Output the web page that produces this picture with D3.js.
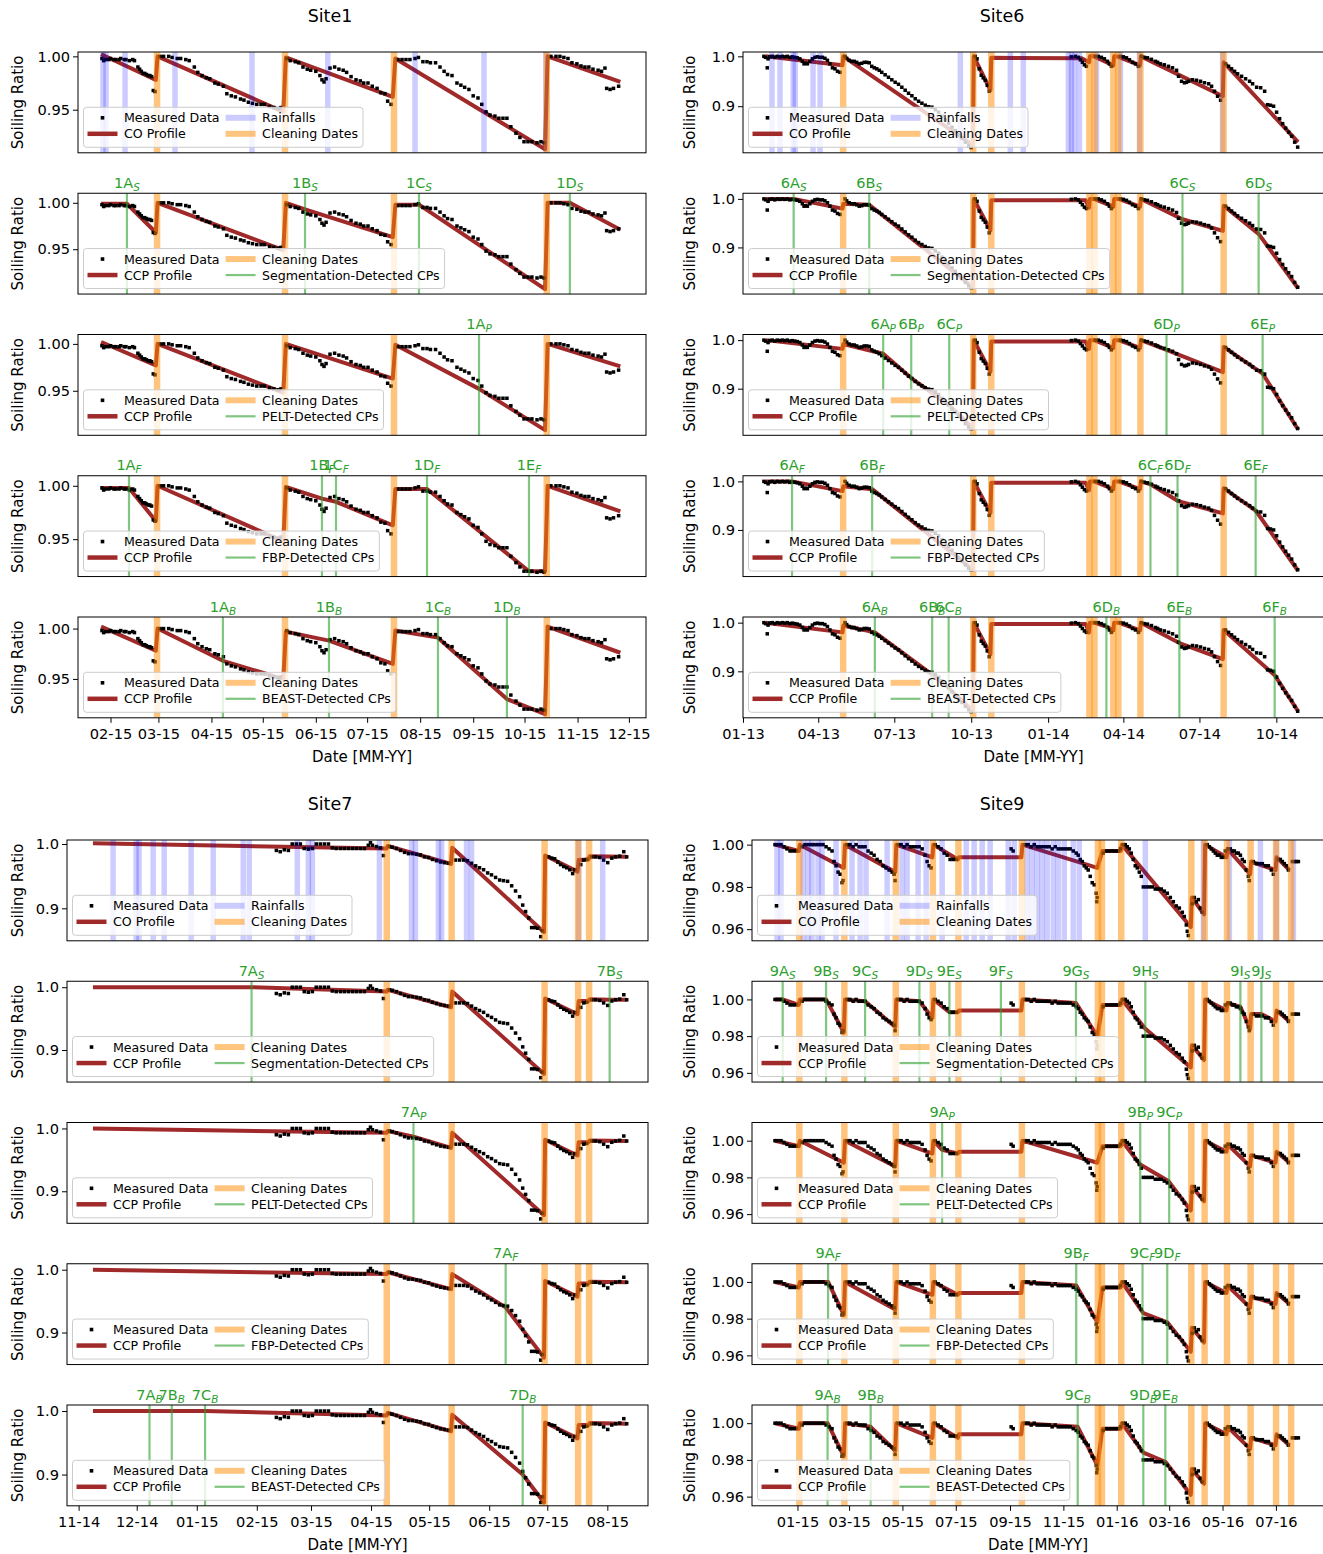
<!DOCTYPE html>
<html><head><meta charset="utf-8">
<script src="https://cdn.jsdelivr.net/npm/d3@7"></script>
<style>
body{margin:0;background:#fff;}
svg{display:block;font-family:"DejaVu Sans",sans-serif;}
</style>
</head><body>
<svg id="chart" width="1323" height="1554"></svg>
<script>
// ===================== DATA (days counted from each site's origin date) =====================
const methodNames = ["Segmentation", "PELT", "FBP", "BEAST"];
const methodSubs = ["S", "P", "F", "B"];

// ---------- Site1 ----------
const site1Origin = "2015-01-13";
const site1End = "2015-12-11";
const site1Ticks = ["2015-02-01","2015-03-01","2015-04-01","2015-05-01","2015-06-01","2015-07-01","2015-08-01","2015-09-01","2015-10-01","2015-11-01","2015-12-01"];
const site1YTicks = [0.95, 1.00];
const site1YDomains = [[0.9096,1.0041],[0.9017,1.0103],[0.9025,1.0100],[0.915,1.0094],[0.9114,1.0115]];
const site1Measured = [
[14,0.998],[15,0.996],[16,0.997],[18,0.997],[19,0.998],[21,0.997],[22,0.997],[24,0.997],[25,0.998],[27,0.997],[28,0.997],[30,0.996],[32,0.997],[33,0.996],[35,0.990],[36,0.988],[37,0.986],[38,0.984],[39,0.984],[40,0.983],[41,0.982],[42,0.982],[43,0.981],[44,0.968],[45,0.967],
[48,1.000],[50,1.000],[53,1.000],[55,0.999],[58,0.998],[60,0.998],[63,0.997],[65,0.996],[68,0.990],[70,0.985],[72.5,0.982],[75,0.980],[77,0.979],[80,0.975],[82,0.974],[85,0.972],[87,0.965],[89.6,0.963],[92,0.962],[95,0.960],[97,0.959],[99.6,0.957],[102,0.956],[104.5,0.955],[107,0.955],[109,0.955],[112,0.953],[114.5,0.952],[117,0.951],[118.6,0.952],
[122,0.998],[124,0.996],[127,0.995],[129,0.994],[131.5,0.990],[134,0.988],[136,0.987],[139,0.986],[141.4,0.982],[142.6,0.978],[143.8,0.976],[145,0.979],[147.3,0.989],[150,0.990],[152.5,0.988],[155,0.987],[157,0.985],[159.6,0.981],[162.5,0.978],[165,0.977],[167,0.975],[169.5,0.975],[172,0.972],[174.8,0.970],[177,0.966],[179.4,0.965],[181,0.958],[183,0.955],
[187,0.997],[189.4,0.997],[191.7,0.997],[194,0.997],[197,0.998],[199,0.999],[201.6,0.995],[204,0.995],[206,0.994],[209,0.994],[211.6,0.990],[214,0.986],[216,0.983],[218.6,0.982],[221.5,0.975],[223.8,0.973],[226,0.971],[228.5,0.969],[231,0.963],[233.8,0.961],[236,0.955],[238.5,0.948],[240.8,0.945],[243.7,0.944],[246,0.942],[248.4,0.942],[250.7,0.942],[253,0.934],[256,0.928],[258.3,0.924],[260.7,0.920],[263,0.920],[265.3,0.920],[268.3,0.919],[270.6,0.920],[272.4,0.919],
[276.4,1.000],[279.4,1.000],[281.7,1.000],[284,0.999],[286.4,0.998],[288.7,0.994],[291.6,0.993],[294,0.991],[296.3,0.990],[298.6,0.990],[301,0.988],[304,0.987],[306,0.986],[308,0.989],[309,0.970],[311,0.969],[313,0.970],[316,0.972]
];
const site1Cleanings = [46.2, 121, 184.7, 274];
const site1Rains = [14.6, 16.4, 27.5, 56.7, 101.7, 146, 197, 237.3, 273.5];
const site1ProfileCO = [[13.5,1.002],[45.5,0.978],[46.5,1.000],[120,0.948],[121.5,0.999],[184,0.962],[185.5,0.998],[273,0.913],[274.5,1.000],[317,0.976]];
const site1ProfileSeg = [[13.5,0.999],[28.6,0.999],[45.5,0.968],[46.5,1.000],[120,0.949],[121.5,1.000],[132.7,0.993],[184,0.963],[185.5,0.998],[199.3,0.998],[273,0.907],[274.5,1.000],[287.5,1.000],[317,0.971]];
const site1ProfilePELT = [[13.5,1.002],[45.5,0.977],[46.5,1.000],[120,0.948],[121.5,1.000],[184,0.963],[185.5,0.999],[234.4,0.952],[273,0.908],[274.5,1.000],[317,0.976]];
const site1ProfileFBP = [[13.5,0.998],[29.8,0.998],[45.5,0.967],[46.5,1.000],[120,0.948],[121.5,0.999],[142.6,0.988],[150.8,0.985],[184,0.963],[185.5,0.997],[204,0.997],[263.6,0.920],[273,0.920],[274.5,1.000],[317,0.976]];
const site1ProfileBEAST = [[13.5,1.002],[45.5,0.978],[46.5,1.000],[84.7,0.968],[120,0.950],[121.5,0.997],[146.7,0.988],[184,0.965],[185.5,0.998],[210.4,0.991],[250.7,0.930],[273,0.915],[274.5,1.002],[317,0.976]];
const site1CPsSeg = [[28.6,"1A"],[132.7,"1B"],[199.3,"1C"],[287.5,"1D"]];
const site1CPsPELT = [[234.4,"1A"]];
const site1CPsFBP = [[29.8,"1A"],[142.6,"1B"],[150.8,"1C"],[204,"1D"],[263.6,"1E"]];
const site1CPsBEAST = [[84.7,"1A"],[146.7,"1B"],[210.4,"1C"],[250.7,"1D"]];

// ---------- Site6 ----------
const site6Origin = "2013-01-01";
const site6End = "2014-11-27";
const site6Ticks = ["2013-01-01","2013-04-01","2013-07-01","2013-10-01","2014-01-01","2014-04-01","2014-07-01","2014-10-01"];
const site6YTicks = [0.9, 1.0];
const site6YDomains = [[0.8066,1.0087],[0.804,1.0116],[0.804,1.0116],[0.804,1.0116],[0.8045,1.0116]];
const site6Measured = [
[25,1.000],[27,0.998],[29,0.977],[30,0.995],[32,0.999],[35,1.000],[38,0.998],[41,1.000],[44,0.999],[47,1.000],[50,0.999],[53,1.000],[56,0.998],[59,0.999],[62,0.998],[65,0.997],[68,0.995],[71,0.990],[73,0.985],[75,0.986],[77,0.985],[80,0.990],[83,0.995],[86,0.998],[89,0.999],[92,0.998],[95,0.998],[98,0.996],[101,0.992],[104,0.985],[107,0.977],[110,0.975],[113,0.970],[116,0.968],
[122,1.000],[124,0.996],[127,0.992],[130,0.990],[133,0.990],[136,0.988],[139,0.985],[142,0.986],[145,0.988],[148,0.988],[151,0.987],[154,0.980],[157,0.977],[160,0.975],[163,0.972],[166,0.968],[170,0.963],[174,0.958],[178,0.953],[182,0.948],[186,0.944],[190,0.938],[194,0.932],[198,0.926],[202,0.921],[206,0.915],[210,0.910],[214,0.906],[218,0.902],[222,0.899],[226,0.898],[230,0.893],[234,0.888],[238,0.880],[242,0.873],[246,0.866],[250,0.858],[254,0.851],[258,0.843],[262,0.836],[266,0.828],[270,0.821],[273,0.817],
[277.8,1.000],[280,0.995],[282.6,0.975],[285,0.962],[287.4,0.957],[289.8,0.952],[292.2,0.942],[294.6,0.930],
[392.8,0.999],[397.6,1.000],[401.2,0.998],[403.6,0.993],[406,0.988],[408.4,0.983],[410.8,0.980],
[421.6,1.000],[425,1.000],[428.7,0.998],[432.3,0.995],[436,0.990],[438.3,0.985],[440.7,0.980],
[451.5,1.000],[455,0.999],[458.7,0.997],[462.3,0.993],[466,0.988],[469.5,0.985],[473,0.980],
[476.6,1.000],[480,0.998],[483.8,0.997],[488.6,0.994],[493.4,0.990],[496,0.988],[499.4,0.985],[504,0.983],[509,0.980],[513.8,0.977],[518.6,0.972],[521,0.960],[524.6,0.950],[528.1,0.947],[530.5,0.948],[533,0.950],[537.7,0.953],[542.5,0.952],[547.3,0.950],[552,0.947],[557,0.945],[560.5,0.940],[564,0.930],[567.7,0.920],[571.3,0.912],
[577.2,0.985],[580.8,0.980],[584.4,0.975],[588,0.970],[591.6,0.965],[596.4,0.960],[601.2,0.955],[606,0.950],[609.6,0.945],[614.4,0.938],[619.2,0.937],[624,0.930],[627.5,0.903],[631,0.902],[634.7,0.900],[638.3,0.888],[641.9,0.875],[645.5,0.865],[649.1,0.856],[652.7,0.848],[656.3,0.840],[659.9,0.828],[663.5,0.818]
];
const site6Cleanings = [119.8, 275.4, 297, 414.4, 420.4, 443, 449, 475.4, 574.9];
const site6Rains = [34.7, 44.3, 60, 62.5, 83.8, 92.2, 260, 319.8, 335.3, 389.2, 392.8, 396.4, 402.4, 422.8, 451.5, 474.3, 573.7];
const site6ProfileCO = [[27,1.000],[119,0.982],[120,1.000],[275,0.822],[276,1.000],[296,0.932],[297,0.997],[405,0.996],[414,0.988],[415,1.000],[420,1.000],[443,0.982],[444,1.000],[449,0.999],[475,0.982],[476,1.000],[574,0.920],[575,0.988],[664,0.828]];
const site6ProfileSeg = [[27,1.000],[60.6,1.000],[119,0.980],[120,0.990],[151,0.988],[275,0.818],[276,1.000],[296,0.935],[297,0.997],[410,0.997],[414,0.982],[415,1.000],[420,1.000],[443,0.984],[444,1.000],[449,1.000],[475,0.984],[476,1.000],[525.7,0.958],[574,0.934],[575,0.986],[616.8,0.928],[664,0.816]];
const site6ProfilePELT = [[27,1.000],[119,0.982],[120,0.992],[167.7,0.972],[201.2,0.922],[246.7,0.866],[275,0.818],[276,1.000],[296,0.935],[297,0.997],[410,0.997],[414,0.982],[415,1.000],[420,1.000],[443,0.984],[444,1.000],[449,1.000],[475,0.984],[476,1.000],[506.6,0.980],[574,0.934],[575,0.986],[621.6,0.931],[664,0.816]];
const site6ProfileFBP = [[27,1.000],[58.7,1.000],[119,0.980],[120,0.990],[154.5,0.984],[275,0.818],[276,1.000],[296,0.935],[297,0.997],[410,0.997],[414,0.982],[415,1.000],[420,1.000],[443,0.984],[444,1.000],[449,1.000],[475,0.984],[476,1.000],[487.4,0.994],[519.8,0.960],[574,0.934],[575,0.986],[613.2,0.940],[664,0.816]];
const site6ProfileBEAST = [[27,1.000],[119,0.980],[120,0.994],[157.7,0.980],[226.3,0.893],[246,0.866],[275,0.818],[276,1.000],[296,0.935],[297,0.997],[410,0.997],[414,0.980],[415,1.000],[420,1.000],[434.7,0.992],[443,0.984],[444,1.000],[449,1.000],[475,0.984],[476,1.000],[522,0.958],[574,0.925],[575,0.985],[636,0.892],[664,0.818]];
const site6CPsSeg = [[60.6,"6A"],[151,"6B"],[525.7,"6C"],[616.8,"6D"]];
const site6CPsPELT = [[167.7,"6A"],[201.2,"6B"],[246.7,"6C"],[506.6,"6D"],[621.6,"6E"]];
const site6CPsFBP = [[58.7,"6A"],[154.5,"6B"],[487.4,"6C"],[519.8,"6D"],[613.2,"6E"]];
const site6CPsBEAST = [[157.7,"6A"],[226.3,"6B"],[246,"6C"],[434.7,"6D"],[522,"6E"],[636,"6F"]];

// ---------- Site7 ----------
const site7Origin = "2014-10-26";
const site7End = "2015-08-22";
const site7Ticks = ["2014-11-01","2014-12-01","2015-01-01","2015-02-01","2015-03-01","2015-04-01","2015-05-01","2015-06-01","2015-07-01","2015-08-01"];
const site7YTicks = [0.9, 1.0];
const site7YDomains = [[0.8495,1.0062],[0.849,1.0095],[0.849,1.0095],[0.849,1.0095],[0.8508,1.0095]];
const site7Measured = [
[108.1,0.990],[110.1,0.988],[112.2,0.991],[114.3,0.990],[116.3,1.000],[118.4,1.000],[120.5,1.000],[122.5,0.993],[124.6,0.992],[126.7,0.993],[128.7,1.000],[130.8,1.000],[132.9,1.000],[135,1.000],[137,0.994],[139,0.993],[141.2,0.993],[143.2,0.993],[145.3,0.993],[147.4,0.993],[149.4,0.993],[151.5,0.993],[153.6,0.993],[155.6,0.998],[156.7,1.002],[157.7,0.998],[159.8,0.996],[161.8,0.994],[163.4,0.982],
[166.5,0.996],[168,0.995],[170.1,0.993],[172.2,0.990],[174.3,0.987],[176.3,0.985],[178.4,0.985],[180.5,0.984],[182.5,0.983],[184.6,0.980],[186.7,0.979],[188.7,0.976],[190.8,0.974],[192.9,0.972],[194.9,0.971],[197,0.970],
[200.6,0.975],[202.7,0.975],[204.8,0.975],[206.8,0.974],[208.9,0.970],[211,0.966],[213,0.963],[215.1,0.960],[217.2,0.955],[219.2,0.952],[221.3,0.948],[223.4,0.944],[225.4,0.943],[227.5,0.942],[229.6,0.935],[231.6,0.927],[233.7,0.918],[235.3,0.905],[236.8,0.895],[238.4,0.885],[239.9,0.870],[241.5,0.870],[243,0.869],[244.6,0.856],[245.5,0.865],
[248.7,0.980],[250.3,0.978],[251.8,0.977],[253.4,0.972],[254.9,0.968],[256.5,0.965],[258,0.963],[259.6,0.960],[261.1,0.954],[262.2,0.960],
[265.3,0.968],[266.8,0.975],[268.4,0.976],
[271,0.980],[273,0.980],[275.1,0.979],[277.1,0.975],[279.2,0.971],[281.3,0.978],[283.3,0.980],[285.4,0.981],[287.5,0.988],[289,0.980]
];
const site7Cleanings = [165.1, 198.6, 246.6, 263.9, 269.6];
const site7Rains = [23.8, 35.7, 37.2, 44.5, 50.2, 64.1, 75.5, 91, 94.1, 118.9, 124.6, 126.7, 161.3, 177.9, 179.9, 191.8, 193.4, 206.3, 208.9, 264.2, 276.6];
const site7ProfileCO = [[13.4,1.001],[165,0.993],[165.6,0.997],[198.3,0.969],[198.9,0.994],[246.3,0.863],[246.9,0.982],[263.6,0.957],[264.2,0.975],[269.3,0.976],[269.9,0.981],[289,0.980]];
const site7ProfileSeg = [[13.4,1.000],[95.3,1.000],[165,0.993],[165.6,0.996],[198.3,0.968],[198.9,0.993],[246.3,0.862],[246.9,0.982],[263.6,0.957],[264.2,0.978],[269.3,0.978],[269.9,0.981],[280.2,0.980],[289,0.980]];
const site7ProfilePELT = [[13.4,1.000],[165,0.993],[165.6,0.996],[178.9,0.987],[198.3,0.969],[198.9,0.993],[246.3,0.862],[246.9,0.982],[263.6,0.957],[264.2,0.978],[269.3,0.978],[269.9,0.981],[289,0.980]];
const site7ProfileFBP = [[13.4,1.000],[165,0.993],[165.6,0.996],[198.3,0.969],[198.9,0.993],[226.5,0.940],[246.3,0.860],[246.9,0.982],[263.6,0.957],[264.2,0.978],[269.3,0.978],[269.9,0.981],[289,0.980]];
const site7ProfileBEAST = [[13.4,1.000],[42.6,1.000],[54.1,1.000],[71.3,1.000],[165,0.993],[165.6,0.997],[198.3,0.968],[198.9,0.994],[235.3,0.900],[246.3,0.856],[246.9,0.982],[263.6,0.957],[264.2,0.978],[269.3,0.978],[269.9,0.981],[289,0.980]];
const site7CPsSeg = [[95.3,"7A"],[280.2,"7B"]];
const site7CPsPELT = [[178.9,"7A"]];
const site7CPsFBP = [[226.5,"7A"]];
const site7CPsBEAST = [[42.6,"7A"],[54.1,"7B"],[71.3,"7C"],[235.3,"7D"]];

// ---------- Site9 ----------
const site9Origin = "2014-11-10";
const site9End = "2016-08-25";
const site9Ticks = ["2015-01-01","2015-03-01","2015-05-01","2015-07-01","2015-09-01","2015-11-01","2016-01-01","2016-03-01","2016-05-01","2016-07-01"];
const site9YTicks = [0.96, 0.98, 1.00];
const site9YDomains = [[0.9545,1.0022],[0.955,1.0099],[0.955,1.0099],[0.955,1.0099],[0.955,1.0099]];
const site9Measured = [
[26.3,1.000],[29.7,1.000],[33.2,1.000],[36.6,0.999],[40,0.998],[43.5,0.997],[46.9,0.997],[50.3,0.997],
[57.2,0.999],[60.6,1.000],[64.1,1.000],[67.5,1.000],[70.9,1.000],[74.4,1.000],[77.8,1.000],[81.2,1.000],[84.7,0.999],[88.1,0.998],[91.5,0.997],[93.8,0.992],[96.1,0.990],[98.4,0.987],[100.7,0.986],[103,0.982],[104.1,0.983],
[108.7,1.000],[112.1,1.000],[115.6,0.999],[119,1.000],[122.4,0.999],[125.9,0.999],[129.3,0.999],[132.7,0.997],[136.2,0.996],[139.6,0.995],[143,0.993],[146.5,0.992],[149.9,0.990],[153.3,0.989],[156.8,0.988],[160.2,0.987],[162.5,0.986],[163.6,0.983],
[167.1,1.000],[170.5,1.000],[173.9,0.999],[177.3,1.000],[180.8,0.999],[184.2,0.999],[187.6,0.999],[191.1,0.999],[194.5,0.998],[197.9,0.995],[200.2,0.992],[202.5,0.990],[204.8,0.989],
[209.4,1.000],[212.8,0.999],[216.2,0.998],[219.7,0.996],[223.1,0.995],[226.5,0.993],[230,0.993],[233.4,0.993],
[296.3,0.998],[298.6,0.997],
[312.4,1.000],[315.8,1.000],[319.2,0.999],[322.7,1.000],[326.1,0.999],[329.5,0.999],[333,0.999],[336.4,0.999],[339.8,0.999],[343.2,0.998],[346.7,0.999],[350.1,0.998],[353.5,0.998],[357,0.998],[360.4,0.998],[363.8,0.998],[367.3,0.997],[370.7,0.996],[373,0.995],[375.3,0.993],[377.6,0.992],[379.9,0.990],[382.2,0.989],[384.4,0.988],[386.7,0.985],[389,0.982],[391.3,0.981],[393.6,0.977],[394.2,0.973],[394.7,0.975],
[401.6,0.996],[405,0.997],[408.5,0.997],[411.9,0.997],[415.3,0.997],[418.8,0.997],[421.1,0.998],
[424.5,1.000],[426.8,1.000],[429.1,0.999],[431.4,0.998],[433.6,0.996],[435.9,0.993],[438.2,0.990],[440.5,0.989],[442.8,0.987],[445.1,0.985],[447.4,0.980],[450.8,0.980],[454.2,0.980],[457.7,0.980],[461.1,0.979],[464.5,0.979],[468,0.979],[471.4,0.978],[474.8,0.977],[478.3,0.975],[481.7,0.973],[485.1,0.971],[488.6,0.970],[492,0.968],[494.3,0.966],[496.6,0.962],[497.7,0.959],[498.9,0.957],
[503.4,0.972],[505.7,0.975],[508,0.973],[510.3,0.974],[512.6,0.970],[514.9,0.968],
[520.6,1.000],[522.9,0.999],[525.2,0.998],[527.5,0.997],[529.7,0.996],[532,0.995],[534.3,0.995],[536.6,0.994],[538.9,0.994],[541.2,0.997],
[544.6,0.998],[546.9,0.998],[549.2,0.997],[551.5,0.997],[553.8,0.996],[556.1,0.996],[558.4,0.995],[560.6,0.993],[562.9,0.992],[565.2,0.988],[567.5,0.985],[568.6,0.983],
[573.2,0.992],[576.7,0.991],[580.1,0.991],[583.5,0.991],[587,0.990],[590.4,0.990],[593.8,0.988],[596.1,0.986],
[601.8,0.993],[604.1,0.993],[606.4,0.992],[608.7,0.991],[611,0.990],[613.3,0.988],
[617.8,0.992],[620.1,0.992],[622.4,0.992],[624.7,0.992]
];
const site9Cleanings = [54.1, 105.6, 164.4, 206.8, 236, 308.6, 395.5, 400.1, 422.2, 502.3, 517.5, 543.1, 570.1, 599.2, 616.4];
const site9Rains = [28.6, 33.2, 58.4, 64.1, 68.6, 75.5, 80.1, 96.1, 114.4, 123.6, 130.4, 154.5, 171.6, 177.3, 189.9, 199.1, 217.4, 244.9, 254, 263.2, 272.3, 292.9, 299.8, 314.6, 320.4, 326.1, 331.8, 337.5, 344.4, 350.1, 357, 367.3, 374.1, 449.7, 516.1, 545.8, 581.3, 599.6, 619];
const site9ProfileCO = [[26.3,1.000],[53.5,0.997],[54.7,1.000],[105,0.989],[106.3,1.000],[163.8,0.987],[165,1.000],[206.2,0.994],[207.4,1.000],[235.4,0.993],[236.6,0.994],[308,0.994],[309.2,1.000],[394.9,0.989],[400.7,0.997],[421.5,0.997],[422.8,1.000],[501.7,0.961],[502.9,0.975],[516.9,0.967],[518.1,1.000],[542.5,0.994],[543.7,0.998],[569.5,0.986],[570.7,0.992],[598.6,0.988],[599.8,0.994],[614.5,0.988]];
const site9ProfileSeg = [[26.3,1.000],[35.1,1.000],[53.5,0.997],[54.7,1.000],[84.7,1.000],[105,0.982],[106.3,1.000],[129.3,0.999],[163.8,0.985],[165,1.000],[191.4,0.999],[206.2,0.990],[207.4,1.000],[225.7,0.993],[235.4,0.993],[236.6,0.994],[284.6,0.994],[308,0.994],[309.2,1.000],[370.4,0.998],[394.9,0.980],[400.7,0.997],[421.5,0.997],[422.8,1.000],[449.7,0.984],[501.7,0.963],[502.9,0.975],[516.9,0.967],[518.1,1.000],[542.5,0.994],[543.7,0.998],[558.4,0.996],[569.5,0.984],[570.7,0.992],[582.4,0.992],[598.6,0.988],[599.8,0.994],[614.5,0.988]];
const site9ProfilePELT = [[26.3,1.000],[53.5,0.997],[54.7,1.000],[105,0.988],[106.3,1.000],[163.8,0.986],[165,1.000],[206.2,0.993],[207.4,1.000],[217.4,0.995],[235.4,0.993],[236.6,0.994],[308,0.994],[309.2,1.000],[394.9,0.988],[400.7,0.997],[421.5,0.997],[422.8,1.000],[443.9,0.987],[476,0.978],[501.7,0.962],[502.9,0.975],[516.9,0.967],[518.1,1.000],[542.5,0.994],[543.7,0.998],[569.5,0.986],[570.7,0.992],[598.6,0.988],[599.8,0.994],[614.5,0.988]];
const site9ProfileFBP = [[26.3,1.000],[53.5,0.997],[54.7,1.000],[87,1.000],[105,0.982],[106.3,1.000],[163.8,0.985],[165,1.000],[206.2,0.993],[207.4,1.000],[235.4,0.993],[236.6,0.994],[308,0.994],[309.2,1.000],[370.7,0.998],[394.9,0.978],[400.7,0.997],[421.5,0.997],[422.8,1.000],[447.4,0.983],[474.8,0.978],[501.7,0.962],[502.9,0.975],[516.9,0.967],[518.1,1.000],[542.5,0.994],[543.7,0.998],[569.5,0.986],[570.7,0.992],[598.6,0.988],[599.8,0.994],[614.5,0.988]];
const site9ProfileBEAST = [[26.3,1.000],[53.5,0.997],[54.7,1.000],[86.4,1.000],[105,0.982],[106.3,1.000],[135.7,0.998],[163.8,0.985],[165,1.000],[206.2,0.992],[207.4,1.000],[235.4,0.992],[236.6,0.994],[308,0.994],[309.2,1.000],[372.4,0.998],[394.9,0.977],[400.7,0.997],[421.5,0.997],[422.8,1.000],[447.4,0.984],[472.6,0.979],[501.7,0.961],[502.9,0.975],[516.9,0.967],[518.1,1.000],[542.5,0.994],[543.7,0.998],[569.5,0.986],[570.7,0.992],[598.6,0.988],[599.8,0.994],[614.5,0.988]];
const site9CPsSeg = [[35.1,"9A"],[84.7,"9B"],[129.3,"9C"],[191.4,"9D"],[225.7,"9E"],[284.6,"9F"],[370.4,"9G"],[449.7,"9H"],[558.4,"9I"],[582.4,"9J"]];
const site9CPsPELT = [[217.4,"9A"],[443.9,"9B"],[477,"9C"]];
const site9CPsFBP = [[87,"9A"],[370.7,"9B"],[446.5,"9C"],[474.8,"9D"]];
const site9CPsBEAST = [[86.4,"9A"],[135.7,"9B"],[372.4,"9C"],[447.4,"9D"],[472.6,"9E"]];

// ===================== LAYOUT / STYLE =====================
const PANEL_STEP = 141.25, PANEL_H = 100.8;
const FS_TICK = 14.6, FS_LABEL = 15, FS_LEG = 12.6, FS_TITLE = 17.5;
const C_PROFILE = "#a02a2a", C_RAIN = "#0000ff", C_CLEAN = "#ff8c00", C_CP = "#2ca02c";

const sites = [
  {key:"s1", title:"Site1", origin:site1Origin, end:site1End, ticks:site1Ticks, tickFmt:"%m-%y", yTicks:site1YTicks, yFmt:".2f", yDomains:site1YDomains,
   measured:site1Measured, cleanings:site1Cleanings, rains:site1Rains,
   profiles:[site1ProfileCO, site1ProfileSeg, site1ProfilePELT, site1ProfileFBP, site1ProfileBEAST],
   cps:[null, site1CPsSeg, site1CPsPELT, site1CPsFBP, site1CPsBEAST],
   left:78, right:646, top:52, titleX:330, ylabelX:22.5},
  {key:"s6", title:"Site6", origin:site6Origin, end:site6End, ticks:site6Ticks, tickFmt:"%m-%y", yTicks:site6YTicks, yFmt:".1f", yDomains:site6YDomains,
   measured:site6Measured, cleanings:site6Cleanings, rains:site6Rains,
   profiles:[site6ProfileCO, site6ProfileSeg, site6ProfilePELT, site6ProfileFBP, site6ProfileBEAST],
   cps:[null, site6CPsSeg, site6CPsPELT, site6CPsFBP, site6CPsBEAST],
   left:743, right:1324, top:52, titleX:1002, ylabelX:695},
  {key:"s7", title:"Site7", origin:site7Origin, end:site7End, ticks:site7Ticks, tickFmt:"%m-%y", yTicks:site7YTicks, yFmt:".1f", yDomains:site7YDomains,
   measured:site7Measured, cleanings:site7Cleanings, rains:site7Rains,
   profiles:[site7ProfileCO, site7ProfileSeg, site7ProfilePELT, site7ProfileFBP, site7ProfileBEAST],
   cps:[null, site7CPsSeg, site7CPsPELT, site7CPsFBP, site7CPsBEAST],
   left:67, right:648, top:840, titleX:330, ylabelX:22.5},
  {key:"s9", title:"Site9", origin:site9Origin, end:site9End, ticks:site9Ticks, tickFmt:"%m-%y", yTicks:site9YTicks, yFmt:".2f", yDomains:site9YDomains,
   measured:site9Measured, cleanings:site9Cleanings, rains:site9Rains,
   profiles:[site9ProfileCO, site9ProfileSeg, site9ProfilePELT, site9ProfileFBP, site9ProfileBEAST],
   cps:[null, site9CPsSeg, site9CPsPELT, site9CPsFBP, site9CPsBEAST],
   left:752, right:1324, top:840, titleX:1002, ylabelX:695}
];

// ===================== DRAWING =====================
const svg = d3.select("#chart");
const parse = d3.utcParse("%Y-%m-%d");
const defs = svg.append("defs");

function drawLegend(root, site, bottom, entries) {
  const g = root.append("g");
  const boxLeft = site.left + 5.5, boxBottom = bottom - 5.5, boxH = 40, boxTop = boxBottom - boxH;
  const rows = [boxTop + 10.5, boxTop + 26.5];
  const bg = g.append("rect");
  const HL = 30, TX = 36.5;
  function handle(hx, yy, type) {
    if (type === "marker") {
      g.append("rect").attr("x", hx + HL / 2 - 1.8).attr("y", yy - 1.8).attr("width", 3.6).attr("height", 3.6).attr("fill", "#000");
    } else {
      const st = {profile:[C_PROFILE,4.5,1], rain:[C_RAIN,6,0.2], clean:[C_CLEAN,6,0.5], cp:[C_CP,2.2,0.6]}[type];
      g.append("line").attr("x1", hx).attr("x2", hx + HL).attr("y1", yy).attr("y2", yy)
        .attr("stroke", st[0]).attr("stroke-width", st[1]).attr("stroke-opacity", st[2]);
    }
  }
  function label(tx, yy, txt) {
    return g.append("text").attr("x", tx).attr("y", yy).attr("dy", "0.36em").attr("font-size", FS_LEG).attr("fill", "#000").text(txt);
  }
  let w1 = 0;
  const h1 = boxLeft + 4;
  entries.slice(0, 2).forEach((e, k) => {
    handle(h1, rows[k], e.type);
    const t = label(h1 + TX, rows[k], e.label);
    w1 = Math.max(w1, t.node().getComputedTextLength());
  });
  const h2 = h1 + TX + w1 + 6;
  let w2 = 0;
  entries.slice(2, 4).forEach((e, k) => {
    handle(h2, rows[k], e.type);
    const t = label(h2 + TX, rows[k], e.label);
    w2 = Math.max(w2, t.node().getComputedTextLength());
  });
  const boxRight = h2 + TX + w2 + 5;
  bg.attr("x", boxLeft).attr("y", boxTop).attr("width", boxRight - boxLeft).attr("height", boxH)
    .attr("rx", 3).attr("fill", "#fff").attr("fill-opacity", 0.8).attr("stroke", "#cccccc").attr("stroke-width", 1);
}

sites.forEach(site => {
  const origin = parse(site.origin);
  const x = d3.scaleUtc().domain([origin, parse(site.end)]).range([site.left, site.right]);
  const X = d => x(new Date(origin.getTime() + d * 864e5));
  const root = svg.append("g");

  root.append("text").attr("x", site.titleX).attr("y", site.top - 30).attr("text-anchor", "middle")
    .attr("font-size", FS_TITLE).attr("fill", "#000").text(site.title);

  for (let i = 0; i < 5; i++) {
    const top = site.top + i * PANEL_STEP, bottom = top + PANEL_H;
    const y = d3.scaleLinear().domain(site.yDomains[i]).range([bottom, top]);
    const cid = `clip-${site.key}-${i}`;
    defs.append("clipPath").attr("id", cid).append("rect")
      .attr("x", site.left).attr("y", top).attr("width", site.right - site.left).attr("height", PANEL_H);
    const pg = root.append("g").attr("clip-path", `url(#${cid})`);

    // profile
    pg.append("path").datum(site.profiles[i])
      .attr("d", d3.line().x(d => X(d[0])).y(d => y(d[1])))
      .attr("fill", "none").attr("stroke", C_PROFILE).attr("stroke-width", 4).attr("stroke-linejoin", "round");
    // measured data
    pg.selectAll("rect.pt").data(site.measured).join("rect").attr("class", "pt")
      .attr("x", d => X(d[0]) - 1.75).attr("y", d => y(d[1]) - 1.75).attr("width", 3.5).attr("height", 3.5).attr("fill", "#000");
    // rainfalls
    if (i === 0) {
      pg.selectAll("line.rain").data(site.rains).join("line").attr("class", "rain")
        .attr("x1", d => X(d)).attr("x2", d => X(d)).attr("y1", top).attr("y2", bottom)
        .attr("stroke", C_RAIN).attr("stroke-opacity", 0.2).attr("stroke-width", 5.5);
    }
    // cleanings
    pg.selectAll("line.clean").data(site.cleanings).join("line").attr("class", "clean")
      .attr("x1", d => X(d)).attr("x2", d => X(d)).attr("y1", top).attr("y2", bottom)
      .attr("stroke", C_CLEAN).attr("stroke-opacity", 0.5).attr("stroke-width", 6.5);
    // change points
    if (i > 0) {
      pg.selectAll("line.cp").data(site.cps[i]).join("line").attr("class", "cp")
        .attr("x1", d => X(d[0])).attr("x2", d => X(d[0])).attr("y1", top).attr("y2", bottom)
        .attr("stroke", C_CP).attr("stroke-opacity", 0.6).attr("stroke-width", 2.2);
      const sub = methodSubs[i - 1];
      site.cps[i].forEach(d => {
        const t = root.append("text").attr("x", X(d[0])).attr("y", top - 5.5).attr("text-anchor", "middle")
          .attr("fill", C_CP).attr("font-size", 14.5);
        t.append("tspan").text(d[1]);
        t.append("tspan").attr("font-size", 10.5).attr("font-style", "italic").attr("dy", 3).text(sub);
      });
    }
    // frame
    root.append("rect").attr("x", site.left).attr("y", top).attr("width", site.right - site.left).attr("height", PANEL_H)
      .attr("fill", "none").attr("stroke", "#000").attr("stroke-width", 1);
    // y axis
    const ya = root.append("g").attr("transform", `translate(${site.left},0)`)
      .call(d3.axisLeft(y).tickValues(site.yTicks).tickFormat(d3.format(site.yFmt)).tickSize(5).tickPadding(3));
    ya.select(".domain").remove();
    ya.selectAll("text").attr("font-size", FS_TICK).attr("font-family", '"DejaVu Sans",sans-serif').attr("fill", "#000");
    ya.selectAll("line").attr("stroke", "#000");
    root.append("text").attr("transform", `translate(${site.ylabelX},${(top + bottom) / 2}) rotate(-90)`)
      .attr("text-anchor", "middle").attr("font-size", FS_LABEL).attr("fill", "#000").text("Soiling Ratio");

    // legend
    const entries = i === 0
      ? [{label:"Measured Data", type:"marker"}, {label:"CO Profile", type:"profile"}, {label:"Rainfalls", type:"rain"}, {label:"Cleaning Dates", type:"clean"}]
      : [{label:"Measured Data", type:"marker"}, {label:"CCP Profile", type:"profile"}, {label:"Cleaning Dates", type:"clean"}, {label:methodNames[i - 1] + "-Detected CPs", type:"cp"}];
    drawLegend(root, site, bottom, entries);

    // x axis on last panel
    if (i === 4) {
      const xa = root.append("g").attr("transform", `translate(0,${bottom})`)
        .call(d3.axisBottom(x).tickValues(site.ticks.map(parse)).tickFormat(d3.utcFormat(site.tickFmt)).tickSize(5).tickPadding(5.5));
      xa.select(".domain").remove();
      xa.selectAll("text").attr("font-size", FS_TICK).attr("font-family", '"DejaVu Sans",sans-serif').attr("fill", "#000");
      xa.selectAll("line").attr("stroke", "#000");
      root.append("text").attr("x", (site.left + site.right) / 2).attr("y", bottom + 44.5).attr("text-anchor", "middle")
        .attr("font-size", FS_LABEL).attr("fill", "#000").text("Date [MM-YY]");
    }
  }
});
</script>
</body></html>
